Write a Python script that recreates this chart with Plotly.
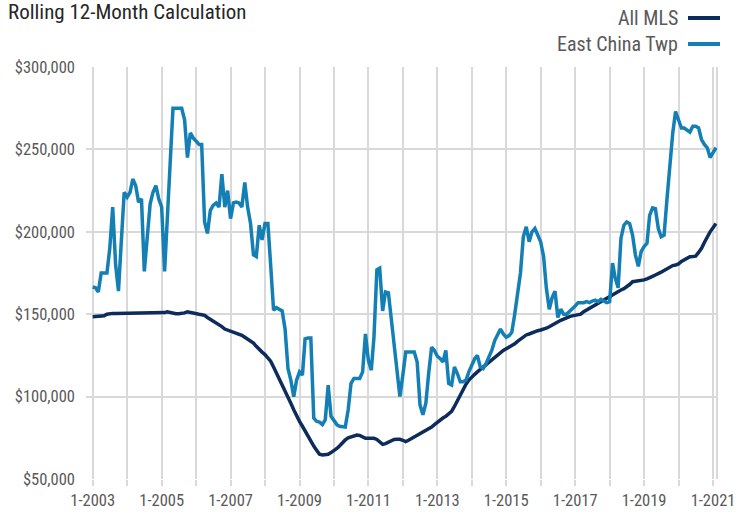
import pandas as pd
import plotly.graph_objects as go

# ---- data (values in $ thousands, monthly, Jan 2003 - Feb 2021) ----
months = pd.date_range("2003-01-01", periods=218, freq="MS")

all_mls_k = [
    148.5, 148.5, 148.5, 148.5, 149, 150, 150.5, 150.5, 150.5, 150.5, 150.5, 150.5,
    150.5, 150.5, 150.5, 150.5, 150.5, 150.5, 150.5, 150.5, 150.5, 150.5, 150.5, 150.5,
    150.5, 151, 151.5, 151, 150.5, 150.3, 150.3, 150.3, 150.8, 151.5, 151, 150.5,
    150.3, 150, 149.7, 149.3, 148, 147, 146, 145, 143.8, 142.5, 141, 140.4,
    140, 139.5, 138.8, 138, 137.2, 136, 135, 134, 132.5, 130.5, 128.5, 127,
    125.5, 123.5, 121.5, 118, 114.5, 111, 107.5, 104, 100, 96, 92, 88,
    85, 82, 79, 76, 73, 70, 67.5, 65, 64.6, 64.6, 65, 66,
    67, 68.5, 70, 72, 73.7, 75, 75.5, 76, 76.7, 76.5, 75.5, 74.7,
    74.7, 74.7, 74.7, 74, 72.7, 71, 71.5, 72.5, 73.5, 74, 74.1, 74.1,
    73.5, 72.7, 73.5, 74.5, 75.3, 76, 77, 78.5, 79.5, 80.5, 81.5, 83,
    84.5, 85.5, 87, 88, 89.5, 91, 94, 97.5, 101, 104.5, 107.5, 110,
    112, 113.5, 115, 116.5, 117.5, 119, 120.5, 122.5, 124, 125.5, 127, 128,
    129, 130, 131, 132, 133.5, 135, 136.5, 137.4, 138, 138.8, 139.4, 140,
    140.4, 140.8, 141.5, 142.4, 143.5, 144.5, 145.5, 146.3, 147, 148, 148.5, 149,
    149.5, 149.5, 150, 151.5, 152.5, 153.5, 154.6, 155.6, 157, 158, 159, 160,
    160.6, 161.5, 163, 164, 164.7, 165.5, 166.5, 168, 169.7, 170, 170, 170.3,
    170.8, 171.5, 172, 173, 173.8, 174.5, 175.5, 176.5, 177.5, 178.8, 179.5, 179.8,
    180.5, 182, 183, 184, 184.9, 185, 185.2, 187.5, 190, 193.5, 197, 200,
    202.5, 205,
]

east_china_k = [
    166.5, 166, 163.5, 175, 175, 175, 190, 215, 180, 164, 195, 224,
    221, 224, 232, 228, 218, 220, 176, 195, 217, 224, 228, 220,
    215, 176, 208, 251, 275, 275, 275, 275, 268, 245, 260, 257,
    255, 253, 253, 206, 199, 213, 216, 217.5, 215, 235, 215, 225,
    208, 217.5, 218, 217.5, 215, 230, 215, 205, 186, 185, 204, 195,
    205, 205, 180, 152.5, 154, 153, 152, 141, 117, 110, 100, 110,
    115, 113, 135, 135.5, 135.5, 87, 85, 84.5, 83, 86, 107, 88,
    85, 83, 82, 82, 81.5, 92, 108, 111, 111, 111, 115, 138,
    122, 116, 136, 177, 178, 152, 163.5, 163, 147, 130.5, 114, 100,
    113, 127, 127, 127, 127, 121, 95, 89, 96, 114, 130, 128,
    124.5, 123, 121, 128, 108, 107, 118, 114, 109, 109, 110, 115,
    119, 123, 125, 118, 117, 120, 124, 128, 134, 138, 141, 138,
    136, 137, 139, 150, 163, 175, 197, 203, 194, 200, 202, 198,
    194, 185, 166, 153, 160, 164, 148, 153, 150, 150, 151.5, 153,
    155, 157, 157, 157, 157.6, 157, 158, 158.5, 157.6, 159, 158, 157,
    157.6, 181, 172, 166, 196, 204, 206, 205, 198, 186, 179, 188,
    191, 193, 210, 214.5, 214, 202, 197, 198, 220, 242, 260, 273,
    268, 263, 263, 262, 260.5, 264, 264, 263, 256, 253, 251, 245,
    248.5, 251,
]

series_names = ["All MLS", "East China Twp"]
series_colors = ["#0d2c5b", "#137fb5"]

y_ticks = [50000, 100000, 150000, 200000, 250000, 300000]

all_mls = [v * 1000 for v in all_mls_k]
east_china = [v * 1000 for v in east_china_k]

FONT = "Liberation Sans Narrow, Roboto Condensed, Arial Narrow, Liberation Sans, sans-serif"
TICKFONT = "Roboto Condensed, Liberation Sans Narrow, sans-serif"
GRID = "#d9d9d9"
TXT = "#595959"

fig = go.Figure()
fig.add_trace(go.Scatter(x=months, y=all_mls, mode="lines", name=series_names[0],
                         line=dict(color=series_colors[0], width=3.5), showlegend=False))
fig.add_trace(go.Scatter(x=months, y=east_china, mode="lines", name=series_names[1],
                         line=dict(color=series_colors[1], width=3.5), showlegend=False))

fig.update_layout(
    width=736, height=515,
    margin=dict(l=86, r=19, t=67, b=36, autoexpand=False),
    paper_bgcolor="white", plot_bgcolor="white",
    font=dict(family=FONT, color=TXT, size=16),
    title=dict(text="Rolling 12-Month Calculation", x=8 / 736, xanchor="left",
               xref="container", yref="container", y=1 - 12 / 515, yanchor="middle",
               automargin=False,
               font=dict(family=FONT, size=21, color="#262626")),
    xaxis=dict(
        type="date",
        automargin=False,
        range=["2002-10-22", "2021-02-12"],
        tickvals=pd.date_range("2003-01-01", "2021-01-01", freq="24MS"),
        tickformat="%-m-%Y",
        showgrid=True, gridcolor=GRID, gridwidth=2,
        ticks="outside", ticklen=6, tickcolor=GRID, tickwidth=2,
        minor=dict(tickvals=pd.date_range("2004-01-01", "2020-01-01", freq="24MS"),
                   showgrid=True, gridcolor=GRID, gridwidth=2,
                   ticks="outside", ticklen=6, tickcolor=GRID, tickwidth=2),
        zeroline=False, showline=False,
        tickfont=dict(family=TICKFONT, size=16.5, color=TXT),
    ),
    yaxis=dict(
        automargin=False,
        range=[50000, 300000],
        tickvals=y_ticks,
        tickformat="$,.0f",
        showgrid=True, gridcolor=GRID, gridwidth=2,
        zeroline=False, showline=False,
        ticklabelstandoff=10,
        tickfont=dict(family=TICKFONT, size=16.5, color=TXT),
    ),
)

# right border of plot area
fig.add_shape(type="line", xref="paper", yref="paper", x0=1, x1=1, y0=0, y1=1,
              line=dict(color=GRID, width=2), layer="below")

# legend (text on left, line sample on right)
legend_rows = [(18, 0), (44, 1)]
for py, i in legend_rows:
    yp = (479 - py) / 412
    fig.add_annotation(text=series_names[i], xref="paper", yref="paper",
                       x=(680 - 86) / 631, y=yp, xanchor="right", yanchor="middle",
                       showarrow=False, font=dict(family=FONT, size=20, color=TXT))
    fig.add_shape(type="line", xref="paper", yref="paper",
                  x0=(688 - 86) / 631, x1=(720 - 86) / 631, y0=yp, y1=yp,
                  line=dict(color=series_colors[i], width=4))

fig.write_html("out.html", config={"displayModeBar": False},
               post_script="document.body.style.margin='0px';document.body.style.overflow='hidden';")
